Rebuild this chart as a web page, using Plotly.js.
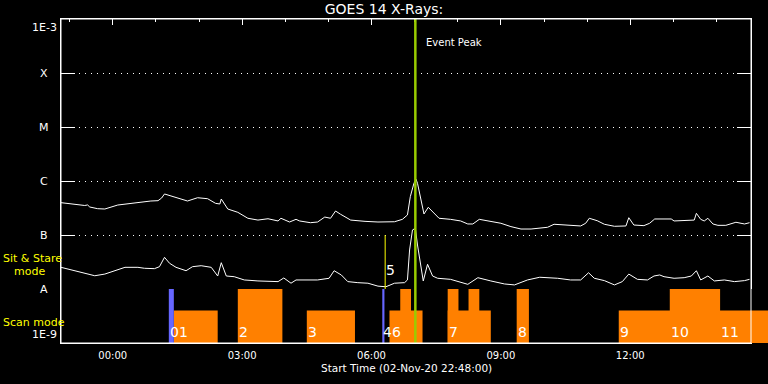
<!DOCTYPE html>
<html><head><meta charset="utf-8">
<script src="https://cdn.plot.ly/plotly-3.0.1.min.js"></script>
<style>html,body{margin:0;padding:0;background:#000;}#chart{width:768px;height:384px;}</style>
</head><body><div id="chart"></div>
<script>
// ---------- data ----------
const startTime = '2020-11-02 22:48';
const spanHours = 16;
const peakTime = '07:01';

// GOES long channel (1-8 A), upper curve
const longT = ['22:48','23:02','23:21','23:25','23:28','23:39','23:49','00:07','00:35','00:53','01:03','01:08','01:12','01:24','01:33','01:44','01:58','02:12','02:23','02:29','02:31','02:40','02:54','03:08','03:22','03:36','03:50','03:54','04:06','04:15','04:20','04:35','04:45','04:55','05:03','05:10','05:17','05:31','05:51','06:09','06:32','06:43','06:50','06:54','06:59','07:02','07:04','07:08','07:13','07:19','07:27','07:34','07:50','08:04','08:14','08:21','08:30','08:41','09:00','09:14','09:28','09:42','09:54','10:05','10:14','10:37','10:51','10:58','11:03','11:14','11:24','11:38','11:54','11:58','12:05','12:19','12:27','12:34','12:47','12:57','13:01','13:20','13:29','13:32','13:38','13:43','13:48','13:55','14:02','14:13','14:27','14:39','14:46'];
const longF = [3.97e-7,3.75e-7,3.52e-7,3.6e-7,3.3e-7,3.07e-7,3.03e-7,3.59e-7,4.03e-7,4.26e-7,4.32e-7,4.84e-7,5.75e-7,5.12e-7,4.84e-7,4.26e-7,4.9e-7,4.7e-7,3.86e-7,3.75e-7,4.64e-7,3.03e-7,2.63e-7,2.04e-7,1.89e-7,2.0e-7,1.82e-7,2.04e-7,1.74e-7,1.95e-7,1.82e-7,1.69e-7,1.74e-7,2.15e-7,2.04e-7,2.78e-7,2.42e-7,1.89e-7,1.79e-7,1.74e-7,1.76e-7,1.95e-7,2.35e-7,5.12e-7,9.06e-7,1.075e-6,9.06e-7,5.12e-7,2.45e-7,3.26e-7,2.52e-7,2.04e-7,1.95e-7,1.82e-7,1.6e-7,1.6e-7,1.95e-7,1.84e-7,1.65e-7,1.43e-7,1.29e-7,1.29e-7,1.33e-7,1.39e-7,1.58e-7,1.51e-7,1.47e-7,1.65e-7,2.04e-7,1.84e-7,1.58e-7,1.45e-7,1.47e-7,2.09e-7,1.53e-7,1.49e-7,1.65e-7,1.98e-7,2.0e-7,1.98e-7,1.82e-7,1.89e-7,1.89e-7,2.52e-7,1.95e-7,1.82e-7,2.04e-7,1.6e-7,1.51e-7,1.51e-7,1.72e-7,1.6e-7,1.69e-7];

// GOES short channel (0.5-4 A), lower curve
const shortT = ['22:48','23:02','23:21','23:35','23:49','00:07','00:17','00:35','00:44','00:58','01:05','01:12','01:19','01:28','01:42','01:51','02:03','02:17','02:26','02:31','02:38','02:49','03:03','03:22','03:36','03:50','03:58','04:08','04:15','04:31','04:45','05:01','05:08','05:18','05:27','05:41','05:55','06:09','06:20','06:32','06:46','06:50','06:53','06:57','07:01','07:04','07:09','07:12','07:18','07:25','07:32','07:50','08:14','08:28','08:46','09:05','09:19','09:37','09:54','10:05','10:19','10:37','10:51','11:02','11:10','11:24','11:38','11:49','11:58','12:10','12:24','12:33','12:41','12:47','13:01','13:15','13:25','13:32','13:38','13:48','13:57','14:11','14:25','14:39','14:46'];
const shortF = [2.52e-8,2.25e-8,1.95e-8,1.76e-8,1.89e-8,2.32e-8,2.52e-8,2.52e-8,2.42e-8,2.38e-8,2.59e-8,3.86e-8,3.0e-8,2.52e-8,2.18e-8,2.59e-8,2.7e-8,2.52e-8,1.74e-8,3.07e-8,1.74e-8,1.69e-8,1.47e-8,1.41e-8,1.37e-8,1.37e-8,1.6e-8,1.28e-8,1.47e-8,1.47e-8,1.47e-8,1.58e-8,2.18e-8,1.82e-8,1.37e-8,1.31e-8,1.28e-8,1.13e-8,1.1e-8,1.28e-8,1.31e-8,1.47e-8,5.28e-8,1.24e-7,1.33e-7,6.53e-8,2.59e-8,1.41e-8,2.87e-8,1.74e-8,1.58e-8,1.51e-8,1.22e-8,1.62e-8,1.41e-8,1.24e-8,1.19e-8,1.47e-8,1.65e-8,1.62e-8,1.58e-8,1.47e-8,1.47e-8,2.0e-8,1.58e-8,1.43e-8,1.19e-8,1.37e-8,1.89e-8,1.51e-8,1.47e-8,1.74e-8,1.82e-8,1.69e-8,1.58e-8,1.62e-8,1.74e-8,2.18e-8,1.47e-8,1.74e-8,1.41e-8,1.47e-8,1.37e-8,1.43e-8,1.51e-8];

// scan-mode rasters (orange): start, end, row level (1 = full, 0.6 = lower)
const scanStart = ['01:25','02:54','04:30','06:25','06:40','07:46','07:46','08:15','09:22','11:44','12:55'];
const scanEnd   = ['02:26','03:56','05:37','07:11','06:55','08:46','08:01','08:30','09:39','15:20','14:05'];
const scanLevel = [0.6, 1, 0.6, 0.6, 1, 0.6, 1, 1, 1, 0.6, 1];

// sit & stare rasters (blue)
const stareStart = ['01:18','06:15'];
const stareEnd   = ['01:25','06:18'];
const stareLevel = [1, 1];

// sit & stare marker "5"
const markerTime = '06:19';
const markerFlux = [1e-8, 1e-7];
const markerLabel = '5';

// raster number labels (adjacent numbers print run together, as in the source)
const rasterLabelTime = ['01:18','02:54','04:30','06:15','07:46','09:22','11:44','12:55','14:05'];
const rasterLabelText = ['01','2','3','46','7','8','9','10','11'];

// y tick labels
const yTickVals = [1e-9, 1e-8, 1e-7, 1e-6, 1e-5, 1e-4, 1e-3];
const yTickText = ['1E-9', 'A', 'B', 'C', 'M', 'X', '1E-3'];

// ---------- helpers ----------
function full(hhmm) { return (parseInt(hhmm, 10) >= 20 ? '2020-11-02 ' : '2020-11-03 ') + hhmm; }
function ms(str) { return Date.parse(str.replace(' ', 'T') + ':00Z'); }
function fmt(m) { return new Date(m).toISOString().slice(0, 19).replace('T', ' '); }

const FONT = 'DejaVu Sans, sans-serif';
const plotW = 690, paperW = 707, plotH = 324;
const t0 = ms(startTime);
const t1 = t0 + spanHours * 3600e3;
const t1ext = t0 + spanHours * 3600e3 * paperW / plotW;

function barTrace(starts, ends, levels, color) {
  const xs = [], ws = [];
  for (let i = 0; i < starts.length; i++) {
    const a = ms(full(starts[i])), b = ms(full(ends[i]));
    xs.push((a + b) / 2); ws.push(b - a);
  }
  return { type: 'bar', x: xs, y: levels, width: ws, xaxis: 'x2', yaxis: 'y2',
    marker: { color: color, line: { width: 0 } }, hoverinfo: 'skip', showlegend: false };
}

const traces = [
  { type: 'scatter', mode: 'lines', x: longT.map(full), y: longF,
    line: { color: '#ffffff', width: 1 }, showlegend: false, hoverinfo: 'skip' },
  { type: 'scatter', mode: 'lines', x: shortT.map(full), y: shortF,
    line: { color: '#ffffff', width: 1 }, showlegend: false, hoverinfo: 'skip' },
  { type: 'scatter', mode: 'lines', x: [full(markerTime), full(markerTime)], y: markerFlux,
    line: { color: '#ffff00', width: 1 }, showlegend: false, hoverinfo: 'skip' },
  barTrace(scanStart, scanEnd, scanLevel, '#ff8000'),
  barTrace(stareStart, stareEnd, stareLevel, '#6666ff')
];

const annotations = [];
yTickVals.forEach((v, i) => {
  annotations.push({ xref: 'paper', yref: 'y', x: (44 - 61) / paperW, y: Math.log10(v),
    text: yTickText[i], showarrow: false, xanchor: 'center',
    yanchor: i === 0 ? 'bottom' : (i === yTickVals.length - 1 ? 'top' : 'middle'),
    font: { family: FONT, size: 11, color: '#ffffff' } });
});
rasterLabelTime.forEach((t, i) => {
  annotations.push({ xref: 'x2', yref: 'y2', x: full(t), y: 0, text: rasterLabelText[i],
    showarrow: false, xanchor: 'left', yanchor: 'bottom', yshift: 1, xshift: -1,
    font: { family: FONT, size: 14, color: '#ffffff' } });
});
annotations.push({ xref: 'x', yref: 'y', x: full(markerTime), y: Math.log10(markerFlux[0]),
  text: markerLabel, showarrow: false, xanchor: 'left', yanchor: 'bottom', yshift: 9, xshift: -1,
  font: { family: FONT, size: 14, color: '#ffffff' } });
annotations.push({ xref: 'x', yref: 'y domain', x: full(peakTime), y: 1, text: 'Event Peak',
  showarrow: false, xanchor: 'left', yanchor: 'top', xshift: 9, yshift: -16,
  font: { family: FONT, size: 10, color: '#ffffff' } });
annotations.push({ xref: 'x domain', yref: 'paper', x: 0.5, y: (343 - 368) / plotH,
  text: 'Start Time (02-Nov-20 22:48:00)', showarrow: false, xanchor: 'center', yanchor: 'middle',
  font: { family: FONT, size: 10.5, color: '#ffffff' } });
annotations.push({ xref: 'paper', yref: 'paper', x: (1 - 61) / paperW, y: (343 - 258.5) / plotH,
  text: 'Sit & Stare', showarrow: false, xanchor: 'left', yanchor: 'middle',
  font: { family: FONT, size: 11, color: '#ffff00' } });
annotations.push({ xref: 'paper', yref: 'paper', x: (12 - 61) / paperW, y: (343 - 271) / plotH,
  text: 'mode', showarrow: false, xanchor: 'left', yanchor: 'middle',
  font: { family: FONT, size: 11, color: '#ffff00' } });
annotations.push({ xref: 'paper', yref: 'paper', x: (1 - 61) / paperW, y: (343 - 322) / plotH,
  text: 'Scan mode', showarrow: false, xanchor: 'left', yanchor: 'middle',
  font: { family: FONT, size: 11, color: '#ffff00' } });

const layout = {
  width: 768, height: 384,
  paper_bgcolor: '#000000', plot_bgcolor: '#000000',
  margin: { l: 61, r: 0, t: 19, b: 41 },
  showlegend: false, barmode: 'overlay',
  title: { text: 'GOES 14 X-Rays:', x: 0.5, xref: 'container', xanchor: 'center',
    y: 1 - 9 / 384, yref: 'container', yanchor: 'middle',
    font: { family: FONT, size: 14, color: '#ffffff' } },
  xaxis: { type: 'date', domain: [0, plotW / paperW], range: [fmt(t0), fmt(t1)],
    tickformat: '%H:%M', dtick: 3 * 3600e3, tick0: '2020-11-03 00:00',
    ticks: 'inside', ticklen: 6, tickcolor: '#ffffff', tickwidth: 1, ticklabelstandoff: 3,
    showline: true, linecolor: '#ffffff', linewidth: 1, mirror: 'ticks',
    showgrid: false, zeroline: false, anchor: 'y',
    tickfont: { family: FONT, size: 10, color: '#ffffff' },
    minor: { dtick: 3600e3, tick0: '2020-11-03 00:00', ticks: 'inside', ticklen: 3,
      tickcolor: '#ffffff', showgrid: false } },
  yaxis: { type: 'log', range: [-9, -3], domain: [0, 1], anchor: 'x',
    tickvals: yTickVals, showticklabels: false,
    ticks: 'inside', ticklen: 14, tickcolor: '#ffffff', tickwidth: 1,
    showline: true, linecolor: '#ffffff', linewidth: 1, mirror: 'ticks',
    showgrid: true, gridcolor: '#ffffff', gridwidth: 1, griddash: '1px,5px', zeroline: false },
  xaxis2: { type: 'date', domain: [0, 1], range: [fmt(t0), fmt(t1ext)], anchor: 'y2',
    visible: false, showgrid: false, zeroline: false },
  yaxis2: { domain: [0, 54 / plotH], range: [0, 1], anchor: 'x2', visible: false,
    showgrid: false, zeroline: false },
  shapes: [
    { type: 'line', xref: 'x', yref: 'y domain', x0: full(peakTime), x1: full(peakTime), y0: 0, y1: 1,
      line: { color: '#99cc00', width: 2.5 }, layer: 'above' },
    { type: 'rect', xref: 'x domain', yref: 'y domain', x0: 0, x1: 1, y0: 0, y1: 1,
      line: { color: '#ffffff', width: 1 }, layer: 'above' }
  ],
  annotations: annotations
};

Plotly.newPlot('chart', traces, layout, { staticPlot: true, displayModeBar: false });
</script>
</body></html>
